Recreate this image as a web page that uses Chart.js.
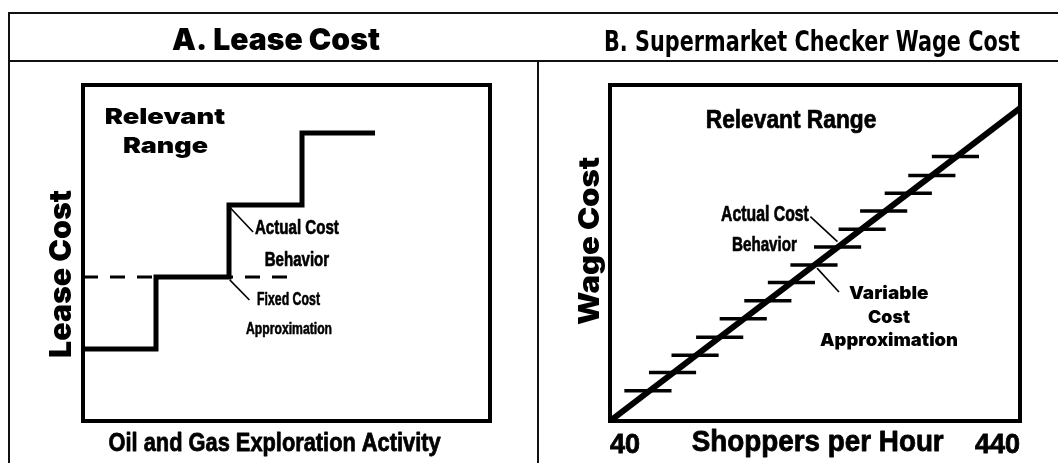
<!DOCTYPE html>
<html>
<head>
<meta charset="utf-8">
<script src="https://cdn.jsdelivr.net/npm/chart.js@4.4.1/dist/chart.umd.min.js"></script>
<style>
  html, body { margin: 0; padding: 0; background: #fff; }
  body { width: 1058px; height: 463px; position: relative; overflow: hidden; }
  .ln { position: absolute; background: #111; }
  #cA { position: absolute; left: 11px; top: 14px; }
  #cB { position: absolute; left: 540px; top: 14px; }
</style>
</head>
<body>
<canvas id="cA" width="525" height="449"></canvas>
<canvas id="cB" width="518" height="449"></canvas>
<div class="ln" style="left:8px;top:12px;width:1050px;height:2px"></div>
<div class="ln" style="left:8px;top:60px;width:1050px;height:2px"></div>
<div class="ln" style="left:8px;top:12px;width:2px;height:451px"></div>
<div class="ln" style="left:537px;top:60px;width:2px;height:403px"></div>
<script>
// ---------------- Panel A: Lease Cost (data) ----------------
const leaseTierStart = [0, 1, 2, 3];
const leaseTierEnd   = [1, 2, 3, 4];
const leaseTierCost  = [1, 2, 3, 4];
const fixedApproxX   = [0, 2.95];
const fixedApproxY   = [2, 2];

// ---------------- Panel B: Supermarket Checker Wage Cost (data) ----------------
const wageStepStart = [54, 78, 100, 124, 147, 171, 194, 216, 239, 263, 284, 308, 331, 354];
const wageStepEnd   = [100, 124, 146, 170, 193, 217, 240, 262, 285, 309, 330, 354, 377, 400];
const wageStepCost  = [9.0, 14.4, 19.6, 24.9, 30.4, 35.8, 41.2, 46.4, 51.8, 57.1, 62.5, 67.8, 73.1, 78.7];
const variableX = [40, 440];
const variableY = [0, 93.1];
const shopperTicks = [40, 440];

// ---------------- styling ----------------
const COND = "'DejaVu Sans Condensed','DejaVu Sans',sans-serif";
const HEAVY = "'Inter','Lato','DejaVu Sans',sans-serif";
const ARIAL = "'Liberation Sans',Arial,sans-serif";
const INK = '#000';

Chart.defaults.color = INK;
Chart.defaults.animation = false;

const measureCtx = document.createElement('canvas').getContext('2d');
function fitSize(text, weight, family, targetWidth) {
  measureCtx.font = weight + ' 100px ' + family;
  return 100 * targetWidth / measureCtx.measureText(text).width;
}

function drawText(ctx, t, px, py) {
  ctx.save();
  ctx.font = t.font;
  ctx.translate(px, py);
  if (t.rot) ctx.rotate(t.rot);
  const sx = t.w ? t.w / ctx.measureText(t.text).width : 1;
  ctx.scale(sx, 1);
  ctx.fillText(t.text, 0, 0);
  if (t.heavy) {
    ctx.lineWidth = t.heavy;
    ctx.lineJoin = 'round';
    ctx.strokeText(t.text, 0, 0);
  }
  ctx.restore();
}

function makeAnnot(cfg) {
  return {
    id: 'annot',
    afterDatasetsDraw(chart) {
      const { ctx, chartArea: a, scales: { x, y } } = chart;
      ctx.save();
      ctx.fillStyle = INK;
      ctx.strokeStyle = INK;
      ctx.textAlign = 'center';
      ctx.textBaseline = 'middle';
      ctx.lineWidth = 1.6;
      cfg.leaders.forEach(l => {
        ctx.beginPath();
        ctx.moveTo(x.getPixelForValue(l[0]), y.getPixelForValue(l[1]));
        ctx.lineTo(x.getPixelForValue(l[2]), y.getPixelForValue(l[3]));
        ctx.stroke();
      });
      cfg.notes.forEach(t => drawText(ctx, t, x.getPixelForValue(t.x), y.getPixelForValue(t.y)));
      cfg.axisTitles.forEach(t => drawText(ctx, t, a.left + t.dx, a.top + t.dy));
      ctx.lineWidth = 4;
      ctx.strokeRect(a.left, a.top, a.right - a.left, a.bottom - a.top);
      ctx.restore();
    }
  };
}

// ---------------- Chart A ----------------
const leasePts = [];
leaseTierStart.forEach((s, i) => {
  leasePts.push({ x: s, y: leaseTierCost[i] }, { x: leaseTierEnd[i], y: leaseTierCost[i] });
});
const fixedPts = fixedApproxX.map((v, i) => ({ x: v, y: fixedApproxY[i] }));

const titleASize = fitSize('A. Lease Cost', '900', HEAVY, 208);
const titleALh = titleASize * 1.2;
const titleAPadTop = 27 - titleALh / 2;

new Chart(document.getElementById('cA'), {
  type: 'line',
  data: {
    datasets: [
      { label: 'Actual Cost Behavior', data: leasePts, borderColor: INK, borderWidth: 5,
        pointRadius: 0, borderJoinStyle: 'miter', borderCapStyle: 'butt', fill: false, tension: 0 },
      { label: 'Fixed Cost Approximation', data: fixedPts, borderColor: INK, borderWidth: 3,
        borderDash: [15, 12], pointRadius: 0, borderCapStyle: 'butt', fill: false, tension: 0 }
    ]
  },
  options: {
    responsive: false,
    devicePixelRatio: 1,
    layout: { padding: { left: 51, right: 46, top: 0, bottom: 0 } },
    plugins: {
      legend: { display: false },
      tooltip: { enabled: false },
      title: { display: true, text: 'A. Lease Cost', color: INK,
        font: { family: HEAVY, size: titleASize, weight: '900', lineHeight: 1.2 },
        padding: { top: titleAPadTop, bottom: 71 - titleALh - titleAPadTop } }
    },
    scales: {
      x: { type: 'linear', min: 0, max: 5.575, grid: { display: false }, border: { display: false },
           ticks: { display: false }, afterFit: s => { s.height = 42; } },
      y: { type: 'linear', min: 0, max: 4.667, grid: { display: false }, border: { display: false },
           ticks: { display: false }, afterFit: s => { s.width = 21; } }
    }
  },
  plugins: [makeAnnot({
    leaders: [[2.01, 2.97, 2.33, 2.625], [2.01, 1.96, 2.28, 1.68]],
    notes: [
      { text: 'Relevant', x: 1.123, y: 4.22, font: '900 22px ' + HEAVY, w: 120.5 },
      { text: 'Range', x: 1.13, y: 3.81, font: '900 22px ' + HEAVY, w: 85 },
      { text: 'Actual Cost', x: 2.93, y: 2.674, font: 'bold 21px ' + ARIAL, w: 84, heavy: 0.7 },
      { text: 'Behavior', x: 2.93, y: 2.236, font: 'bold 21px ' + ARIAL, w: 64.5, heavy: 0.7 },
      { text: 'Fixed Cost', x: 2.815, y: 1.68, font: 'bold 18.5px ' + ARIAL, w: 63, heavy: 0.6 },
      { text: 'Approximation', x: 2.822, y: 1.271, font: 'bold 17px ' + ARIAL, w: 86, heavy: 0.6 }
    ],
    axisTitles: [
      { text: 'Lease Cost', dx: -21, dy: 189, rot: -Math.PI / 2, font: '900 30px ' + HEAVY, w: 168 },
      { text: 'Oil and Gas Exploration Activity', dx: 191.6, dy: 359, font: 'bold 26px ' + ARIAL, w: 332, heavy: 0.8 }
    ]
  })]
});

// ---------------- Chart B ----------------
const variablePts = variableX.map((v, i) => ({ x: v, y: variableY[i] }));
const wagePts = [];
wageStepStart.forEach((s, i) => {
  wagePts.push({ x: s, y: wageStepCost[i] }, { x: wageStepEnd[i], y: wageStepCost[i] },
               { x: wageStepEnd[i], y: null });
});

new Chart(document.getElementById('cB'), {
  type: 'line',
  data: {
    datasets: [
      { label: 'Variable Cost Approximation', data: variablePts, borderColor: INK, borderWidth: 6,
        pointRadius: 0, borderCapStyle: 'butt', fill: false, tension: 0 },
      { label: 'Actual Cost Behavior', data: wagePts, borderColor: INK, borderWidth: 3.5,
        pointRadius: 0, borderCapStyle: 'butt', fill: false, tension: 0, spanGaps: false }
    ]
  },
  options: {
    responsive: false,
    devicePixelRatio: 1,
    layout: { padding: { left: 64, right: 38, top: 0, bottom: 0 } },
    plugins: {
      legend: { display: false },
      tooltip: { enabled: false },
      title: { display: true, text: 'B. Supermarket Checker Wage Cost', color: INK,
        font: { family: COND, size: 28, weight: 'bold', lineHeight: 1.2 },
        padding: { top: 12.7, bottom: 24.7 } }
    },
    scales: {
      x: { type: 'linear', min: 40, max: 440, grid: { display: false }, border: { display: false },
           afterBuildTicks: s => { s.ticks = shopperTicks.map(v => ({ value: v })); },
           ticks: { display: true, align: 'inner', padding: 0, maxRotation: 0, autoSkip: false,
                    color: INK, textStrokeColor: INK, textStrokeWidth: 0.8,
                    font: { family: ARIAL, size: 27, weight: 'bold', lineHeight: 1.2 } },
           afterFit: s => { s.height = 42; } },
      y: { type: 'linear', min: 0, max: 100, grid: { display: false }, border: { display: false },
           ticks: { display: false }, afterFit: s => { s.width = 6; } }
    }
  },
  plugins: [makeAnnot({
    leaders: [[235.5, 60.8, 261.9, 53.4], [242, 45.5, 263.4, 38.4]],
    notes: [
      { text: 'Relevant Range', x: 216.6, y: 89.3, font: 'bold 25px ' + ARIAL, w: 170.6, heavy: 0.7 },
      { text: 'Actual Cost', x: 191.2, y: 61.3, font: 'bold 21.5px ' + ARIAL, w: 87.8, heavy: 0.7 },
      { text: 'Behavior', x: 190.7, y: 52.2, font: 'bold 21px ' + ARIAL, w: 65, heavy: 0.7 },
      { text: 'Variable', x: 312, y: 37.9, font: '900 18px ' + HEAVY, w: 79.4 },
      { text: 'Cost', x: 312.2, y: 30.8, font: '900 18px ' + HEAVY, w: 42 },
      { text: 'Approximation', x: 312.2, y: 23.8, font: '900 18px ' + HEAVY, w: 138 }
    ],
    axisTitles: [
      { text: 'Wage Cost', dx: -19, dy: 156, rot: -Math.PI / 2, font: '900 28px ' + HEAVY, w: 168 },
      { text: 'Shoppers per Hour', dx: 207.7, dy: 357.5, font: 'bold 29px ' + ARIAL, w: 252, heavy: 0.8 }
    ]
  })]
});
</script>
</body>
</html>
